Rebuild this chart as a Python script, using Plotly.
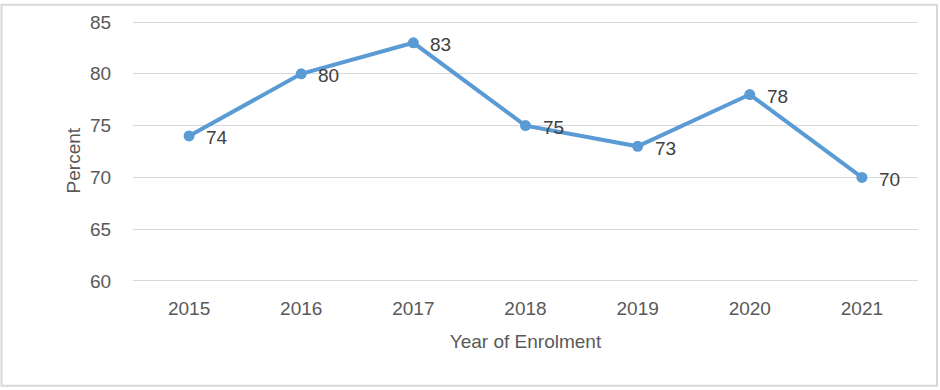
import plotly.graph_objects as go

years = ["2015", "2016", "2017", "2018", "2019", "2020", "2021"]
percent = [74, 80, 83, 75, 73, 78, 70]

W, H = 940, 390
Y0, Y1 = 59.8, 85.2
px_per_unit = 262 / 25
L, R = 133, 22
T = 19 - (Y1 - 85) * px_per_unit
B = (390 - 281) - (60 - Y0) * px_per_unit
pw, ph = W - L - R, H - T - B

def px_to_paper_x(x):
    return (x - L) / pw

def px_to_paper_y(y):
    return (H - B - y) / ph

font_fam = "Liberation Sans, Arial, sans-serif"
gray = "#595959"
FS = 19

fig = go.Figure()
fig.add_trace(go.Scatter(
    x=years, y=percent,
    mode="lines+markers",
    line=dict(color="#5B9BD5", width=4),
    marker=dict(color="#5B9BD5", size=11),
    hoverinfo="x+y",
    cliponaxis=False,
))

annotations = [dict(
    x=i, y=v, xref="x", yref="y",
    text=str(v), showarrow=False,
    xanchor="left", yanchor="middle",
    xshift=15, yshift=-2,
    font=dict(size=FS, color="#404040"),
) for i, v in enumerate(percent)]

annotations.append(dict(
    text="Percent",
    textangle=-90,
    xref="paper", yref="paper",
    x=px_to_paper_x(73), y=px_to_paper_y(159),
    xanchor="center", yanchor="middle",
    showarrow=False,
    font=dict(size=FS, color=gray),
))

fig.update_layout(
    width=W, height=H,
    margin=dict(l=L, r=R, t=T, b=B),
    paper_bgcolor="white",
    plot_bgcolor="white",
    showlegend=False,
    font=dict(family=font_fam, size=FS, color=gray),
    xaxis=dict(
        type="category",
        showgrid=False,
        showline=False,
        ticks="outside",
        ticklen=8,
        tickcolor="rgba(0,0,0,0)",
        tickfont=dict(size=FS, color=gray),
        title=dict(text="Year of Enrolment", font=dict(size=FS, color=gray), standoff=16),
        range=[-0.5, 6.5],
    ),
    yaxis=dict(
        range=[Y0, Y1],
        tickvals=[60, 65, 70, 75, 80, 85],
        showgrid=True,
        gridcolor="#d9d9d9",
        gridwidth=1.3,
        zeroline=False,
        showline=False,
        ticks="outside",
        ticklen=17,
        tickcolor="rgba(0,0,0,0)",
        tickfont=dict(size=FS, color=gray),
    ),
    annotations=annotations,
    shapes=[dict(
        type="rect",
        xref="paper", yref="paper",
        x0=px_to_paper_x(1.5), x1=px_to_paper_x(937),
        y0=px_to_paper_y(387), y1=px_to_paper_y(1.5),
        line=dict(color="#d9d9d9", width=2),
        fillcolor="rgba(0,0,0,0)",
        layer="below",
    )],
)

fig.write_html(
    "out.html",
    config={"displayModeBar": False},
    post_script="document.body.style.margin='0px';document.body.style.padding='0px';",
)
